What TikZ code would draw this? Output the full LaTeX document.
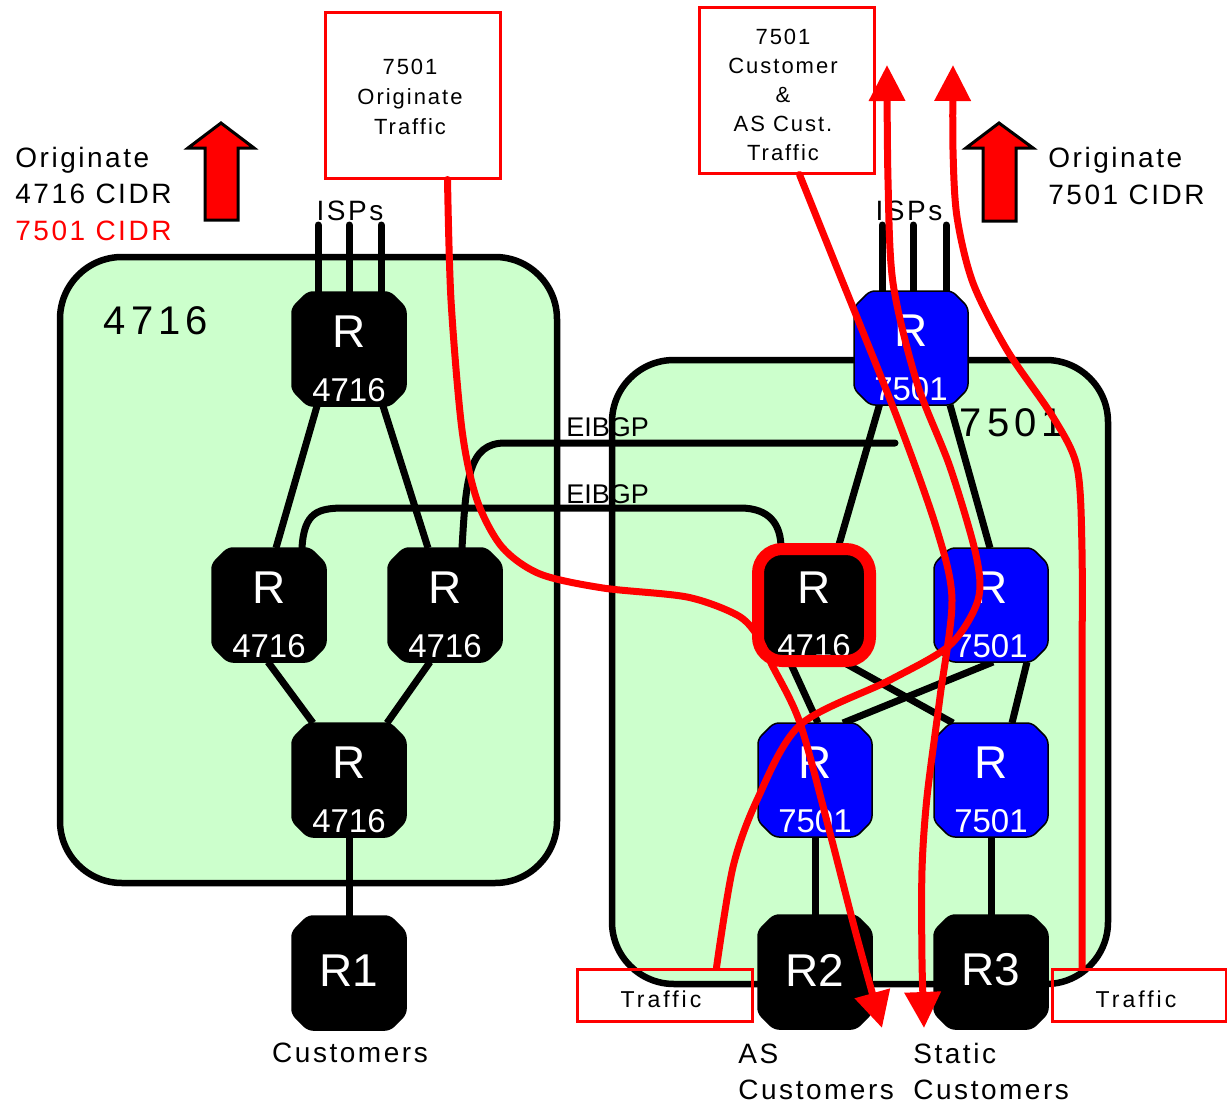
\documentclass[tikz,border=0pt]{standalone}
\usepackage{fontspec}
\setmainfont{Liberation Sans}
\newfontfamily\spc[LetterSpace=9]{Liberation Sans}
\newfontfamily\spcw[LetterSpace=13]{Liberation Sans}
\usetikzlibrary{arrows.meta,calc,backgrounds}
\definecolor{cloudgreen}{HTML}{CCFFCC}
\definecolor{rtrblue}{HTML}{0000FF}
\tikzset{
  cloudbox/.style={fill=cloudgreen,draw=black,line width=3.25pt,rounded corners=31pt},
  link/.style={line width=3.5pt},
  ispline/.style={line width=3.5pt,line cap=round},
  rtrbase/.style={rectangle,minimum width=57pt,minimum height=57pt,inner sep=0pt},
  rtrshape/.style={draw=black,line width=0.75pt,rounded corners=2.5pt},
  rtrtop/.style={text=white,font=\fontsize{23}{23}\selectfont,inner sep=0pt},
  rtrbot/.style={text=white,font=\fontsize{16.5}{16.5}\selectfont,inner sep=0pt},
  bigtxt/.style={font=\spc\fontsize{14}{16}\selectfont,inner sep=0pt},
  cloudlbl/.style={font=\spcw\fontsize{20}{22}\selectfont,inner sep=0pt},
  eib/.style={font=\fontsize{13.5}{15}\selectfont,inner sep=0pt},
  redbox/.style={draw=red,line width=1.5pt,inner sep=0pt},
  boxtxt/.style={font=\spc\fontsize{11}{15}\selectfont,align=center,inner sep=0pt},
  traftxt/.style={font=\spcw\fontsize{11.5}{13}\selectfont,inner sep=0pt},
  flow/.style={red,line width=3.5pt,line cap=round,-{Triangle[length=18pt,width=17.5pt]}},
  blockarrow/.style={fill=red,draw=black,line width=1.5pt,line join=miter},
}
\newcommand\rtrbody[4]{%
  \node[rtrbase] (#1) at (#2,#3) {};
  \filldraw[rtrshape,fill=#4] ($(#1)+(-57,-41)$) -- ($(#1)+(-41,-57)$) -- ($(#1)+(41,-57)$) -- ($(#1)+(57,-41)$) -- ($(#1)+(57,41)$) -- ($(#1)+(41,57)$) -- ($(#1)+(-41,57)$) -- ($(#1)+(-57,41)$) -- cycle;}
\newcommand\rtrnode[5]{%
  \rtrbody{#1}{#2}{#3}{#4}
  \node[rtrtop] (#1r) at ($(#1)+(0,-17)$) {R};
  \node[rtrbot] (#1n) at ($(#1)+(0,41)$) {#5};}
\begin{document}
\begin{tikzpicture}[x=0.5pt,y=-0.5pt]
\useasboundingbox (0,0) rectangle (1227,1103);

% ---- routers AS 4716
\rtrnode{A}{349}{349}{black}{4716}
\rtrnode{B}{269}{605}{black}{4716}
\rtrnode{C}{445}{605}{black}{4716}
\rtrnode{D}{349}{780}{black}{4716}
\rtrbody{R1}{349}{973}{black}
\node[rtrtop] (R1t) at ($(R1)+(0,-2)$) {R1};

% ---- routers AS 7501
\rtrnode{T}{911}{348}{rtrblue}{7501}
\rtrnode{H}{814}{605}{black}{4716}
\rtrnode{M}{991}{605}{rtrblue}{7501}
\rtrnode{L}{815}{780}{rtrblue}{7501}
\rtrnode{N}{991}{780}{rtrblue}{7501}
\rtrbody{R2}{815}{972}{black}
\node[rtrtop] (R2t) at ($(R2)+(0,-2)$) {R2};
\rtrbody{R3}{991}{972}{black}
\node[rtrtop] (R3t) at ($(R3)+(0,-2)$) {R3};
\draw[red,line width=6pt,rounded corners=12pt] ($(H)+(-56,-56)$) rectangle ($(H)+(56,56)$);

% free ends
\coordinate (ia1) at (318,225);
\coordinate (ia2) at (349,225);
\coordinate (ia3) at (381,225);
\coordinate (it1) at (882,225);
\coordinate (it2) at (913,225);
\coordinate (it3) at (946,225);
\coordinate (eibend) at (895,443);

\begin{pgfonlayer}{background}
\fill[white] (0,0) rectangle (1227,1103);
\draw[cloudbox] (60,257) rectangle (557,883);
\draw[cloudbox] (612,360) rectangle (1108,984);
% ISP uplinks
\draw[ispline] (ia1) -- (ia1 |- A.north);
\draw[ispline] (ia2) -- (ia2 |- A.north);
\draw[ispline] (ia3) -- (ia3 |- A.north);
\draw[ispline] (it1) -- (it1 |- T.north);
\draw[ispline] (it2) -- (it2 |- T.north);
\draw[ispline] (it3) -- (it3 |- T.north);
% AS 4716 links
\draw[link] ($(A)+(-32,57)$) -- ($(B)+(7,-57)$);
\draw[link] ($(A)+(34,57)$) -- ($(C)+(-17,-57)$);
\draw[link] ($(B)+(-1,57)$) -- ($(D)+(-36,-57)$);
\draw[link] ($(C)+(-15,57)$) -- ($(D)+(38,-57)$);
\draw[link] (D) -- (R1);
% AS 7501 links
\draw[link] ($(T)+(-31,55)$) -- ($(H)+(24,-57)$);
\draw[link] ($(T)+(39,57)$) -- ($(M)+(-1,-57)$);
\draw[link] ($(H)+(-24,57)$) -- ($(L)+(3,-57)$);
\draw[link] ($(H)+(29,57)$) -- ($(N)+(-38,-57)$);
\draw[link] ($(M)+(2,57)$) -- ($(L)+(28,-57)$);
\draw[link] ($(M)+(36,57)$) -- ($(N)+(21,-57)$);
\draw[link] (L) -- (R2);
\draw[link] (N) -- (R3);
% EIBGP sessions
\draw[link,line cap=round] ($(C)+(17,-57)$) .. controls ($(C)+(21,-125)$) and (468,443) .. (505,443) -- (eibend);
\draw[link] ($(B)+(33,-57)$) .. controls (304,512) and (318,508) .. (345,508) -- (740,508) .. controls (770,508) and (781,525) .. ($(H)+(-33,-57)$);
\end{pgfonlayer}

% ---- labels
\node[eib,anchor=base west] (eib1) at (566,436) {EIBGP};
\node[eib,anchor=base west] (eib2) at (566,503) {EIBGP};
\node[bigtxt,anchor=base] (isp1) at (350,220) {ISPs};
\node[bigtxt,anchor=base] (isp2) at (909,220) {ISPs};
\node[cloudlbl,anchor=base] (as1) at (156,334) {4716};
\node[cloudlbl,anchor=base] (as2) at (1012,436) {7501};
\node[bigtxt,anchor=base west] (o1) at (15,167) {Originate};
\node[bigtxt,anchor=base west] (o2) at (15,203) {4716 CIDR};
\node[bigtxt,anchor=base west,text=red] (o3) at (15,240) {7501 CIDR};
\node[bigtxt,anchor=base west] (o4) at (1048,167) {Originate};
\node[bigtxt,anchor=base west] (o5) at (1048,204) {7501 CIDR};
\node[bigtxt,anchor=base] (cu1) at (350,1062) {Customers};
\node[bigtxt,anchor=base west] (cu2) at (738,1063) {AS};
\node[bigtxt,anchor=base west] (cu3) at (738,1099) {Customers};
\node[bigtxt,anchor=base west] (cu4) at (913,1063) {Static};
\node[bigtxt,anchor=base west] (cu5) at (913,1099) {Customers};

% ---- block arrows
\draw[blockarrow] (221,123) -- (254,148) -- (238,148) -- (238,220) -- (205,220) -- (205,148) -- (188,148) -- cycle;
\draw[blockarrow] (999,123) -- (1033,148) -- (1016,148) -- (1016,221) -- (983,221) -- (983,148) -- (966,148) -- cycle;

% ---- red boxes
\node[redbox,minimum width=87.5pt,minimum height=83pt] (box1) at (412.5,95) {};
\node[boxtxt] (box1t) at (410,97) {7501\\Originate\\Traffic};
\node[redbox,minimum width=87.5pt,minimum height=83pt] (box2) at (786.5,90) {};
\node[boxtxt,font=\spc\fontsize{11}{14.5}\selectfont] (box2t) at (783,95) {7501\\Customer\\\&\\AS Cust.\\Traffic};
\node[redbox,minimum width=87.5pt,minimum height=26pt] (traf1) at (664.5,995) {};
\node[traftxt,anchor=base] (traf1t) at (661,1007) {Traffic};
\node[redbox,minimum width=87pt,minimum height=26pt] (traf2) at (1139,995) {};
\node[traftxt,anchor=base] (traf2t) at (1136,1007) {Traffic};

% ---- traffic flows
\coordinate (c1s) at ($(box1.south)+(35,0)$);
\coordinate (c2s) at ($(traf1.north)+(52,0)$);
\coordinate (c3s) at ($(box2.south)+(13,0)$);
\coordinate (c4s) at ($(traf2.north)+(-57,0)$);
\draw[flow] plot[smooth,tension=0.5] coordinates {(c1s) (451,300) (462,430) (477,500) (502,547) (540,574) (603,588) (687,597) (737,615) (757,635) (772,665) (800,723) (830,833) (855,930) (882,1028)};
\draw[flow] plot[smooth,tension=0.5] coordinates {(c2s) (733,867) (757,800) (800,725) (890,680) (950,645) (978,600) (976,555) (950,467) (917,383) (893,283) (888,180) (887,65)};
\draw[flow] plot[smooth,tension=0.5] coordinates {(c3s) (835,263) (898,420) (937,530) (952,600) (940,697) (927,797) (922,870) (922,960) (924,1028)};
\draw[flow] plot[smooth,tension=0.5] coordinates {(c4s) (1082,700) (1082,550) (1077,467) (1053,417) (1007,350) (973,283) (957,217) (953,150) (953,65)};
\end{tikzpicture}
\end{document}
